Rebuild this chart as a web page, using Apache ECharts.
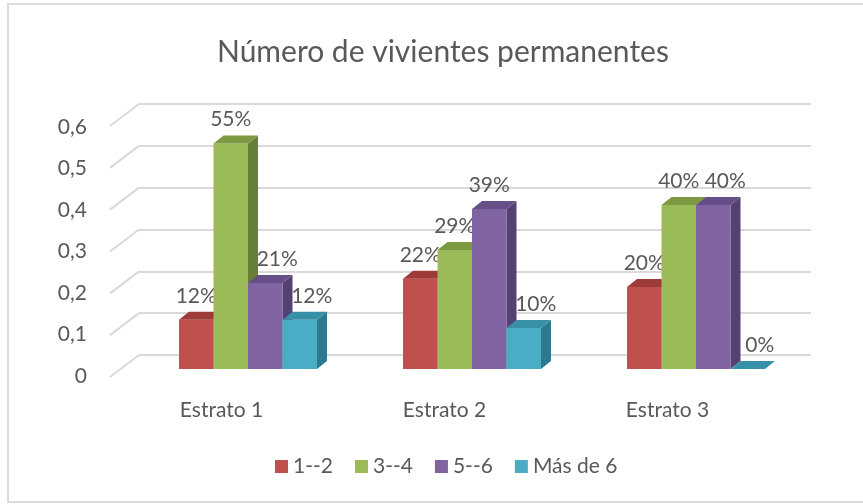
<!DOCTYPE html>
<html>
<head>
<meta charset="utf-8">
<script src="https://cdn.jsdelivr.net/npm/echarts@6/dist/echarts.min.js"></script>
<style>html,body{margin:0;padding:0;background:#fff}#c{width:863px;height:504px}</style>
</head>
<body>
<div id="c"></div>
<script>
const titleText = 'Número de vivientes permanentes';
const categories = ['Estrato 1', 'Estrato 2', 'Estrato 3'];
const seriesNames = ['1--2', '3--4', '5--6', 'Más de 6'];
const s12 = [0.12, 0.22, 0.20];
const s34 = [0.55, 0.29, 0.40];
const s56 = [0.21, 0.39, 0.40];
const sMas6 = [0.12, 0.10, 0.00];
const yTicks = [0, 0.1, 0.2, 0.3, 0.4, 0.5, 0.6];
const yTickLabels = ['0', '0,1', '0,2', '0,3', '0,4', '0,5', '0,6'];

const allSeries = [s12, s34, s56, sMas6];
const frontColors = ['#C0504D', '#9BBB59', '#8064A2', '#4BACC6'];
const topColors = ['#9E3A37', '#7D9A43', '#664E86', '#3690A8'];
const sideColors = ['#8A302D', '#677F37', '#554073', '#2B7A8F'];
const FONT = 'Lato, "Open Sans", sans-serif';
const TXT = '#595959';

function barRenderer(sIdx) {
  return function (params, api) {
    const ci = api.value(0), v = api.value(1);
    const base = api.coord([ci, 0]);
    const top = api.coord([ci, v]);
    const band = api.size([1, 0])[0];
    const bw = band * 0.154;
    const x0 = base[0] - 2 * bw + sIdx * bw;
    const x1 = x0 + bw;
    const yb = base[1], yt = top[1];
    const dx = 10, dy = -8;
    const prev = sIdx > 0 ? allSeries[sIdx - 1][ci] : -1;
    const shift = prev >= v ? 12 : 0;
    return {
      type: 'group',
      children: [
        { type: 'polygon', shape: { points: [[x1, yt], [x1 + dx, yt + dy], [x1 + dx, yb + dy], [x1, yb]] }, style: { fill: sideColors[sIdx] } },
        { type: 'rect', shape: { x: x0, y: yt, width: bw, height: yb - yt }, style: { fill: frontColors[sIdx] } },
        { type: 'polygon', shape: { points: [[x0, yt], [x1, yt], [x1 + dx, yt + dy], [x0 + dx, yt + dy]] }, style: { fill: topColors[sIdx] } },
        { type: 'text', style: { text: Math.round(v * 100) + '%', x: (x0 + x1) / 2 + shift, y: yt - 24, align: 'center', verticalAlign: 'middle', fill: TXT, font: '21px ' + FONT } }
      ]
    };
  };
}

const chart = echarts.init(document.getElementById('c'), null, { renderer: 'canvas' });
const option = {
  animation: false,
  title: { text: titleText, left: 212, top: 32, textStyle: { fontFamily: FONT, fontSize: 30, fontWeight: 'normal', color: TXT } },
  legend: {
    top: 451, left: 270, icon: 'rect', itemWidth: 13, itemHeight: 13, itemGap: 22,
    textStyle: { fontFamily: FONT, fontSize: 21, color: TXT },
    data: seriesNames
  },
  graphic: [
    { type: 'rect', shape: { x: 8, y: 4, width: 870, height: 498 }, style: { fill: 'none', stroke: '#dcdcdc', lineWidth: 2 }, silent: true }
  ],
  grid: [
    { left: 139, right: 52, top: 104, height: 251 },
    { left: 110, right: 84, top: 127, height: 249 },
    { left: 136, right: 55, top: 123, height: 246 }
  ],
  xAxis: [
    { gridIndex: 0, type: 'value', min: 0, max: 1, show: false },
    { gridIndex: 1, type: 'category', data: categories, axisLine: { show: false }, axisTick: { show: false },
      axisLabel: { margin: 24, fontFamily: FONT, fontSize: 21, color: TXT } },
    { gridIndex: 2, type: 'category', data: categories, show: false }
  ],
  yAxis: [
    { gridIndex: 0, type: 'value', min: 0, max: 0.6, interval: 0.1, axisLabel: { show: false }, axisLine: { show: false }, axisTick: { show: false },
      splitLine: { show: true, lineStyle: { color: '#d9d9d9', width: 2 } } },
    { gridIndex: 1, type: 'value', min: 0, max: 0.6, interval: 0.1, axisLine: { show: false }, axisTick: { show: false }, splitLine: { show: false },
      axisLabel: { margin: 23, fontFamily: FONT, fontSize: 21, color: TXT, formatter: function (val) { const i = yTicks.findIndex(t => Math.abs(t - val) < 1e-9); return i >= 0 ? yTickLabels[i] : ''; } } },
    { gridIndex: 2, type: 'value', min: 0, max: 0.6, show: false }
  ],
  series: [
    {
      type: 'custom', xAxisIndex: 0, yAxisIndex: 0, silent: true, z: 1,
      data: yTicks.map(t => [0, t]),
      renderItem: function (params, api) {
        const p = api.coord([0, api.value(1)]);
        return { type: 'line', shape: { x1: p[0] - 29, y1: p[1] + 22, x2: p[0], y2: p[1] }, style: { stroke: '#d9d9d9', lineWidth: 2 } };
      }
    }
  ].concat(allSeries.map((arr, sIdx) => ({
    type: 'custom', name: seriesNames[sIdx], xAxisIndex: 2, yAxisIndex: 2, z: 2 + sIdx,
    itemStyle: { color: frontColors[sIdx] },
    data: arr.map((v, i) => [i, v]),
    renderItem: barRenderer(sIdx)
  })))
};
chart.setOption(option);
</script>
</body>
</html>
